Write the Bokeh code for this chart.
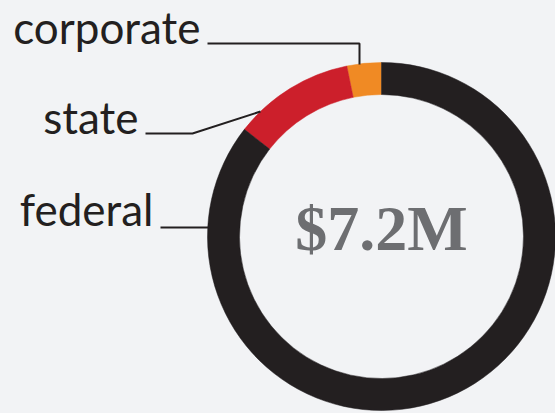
import math
from bokeh.plotting import figure
from bokeh.models import Range1d, GlobalInlineStyleSheet, ColumnDataSource
from bokeh.core.properties import value
from bokeh.embed import file_html
from bokeh.resources import INLINE

# ---- data ----
categories = ["corporate", "state", "federal"]
amounts_musd = [0.23, 0.81, 6.16]          # millions of dollars
colors = ["#f08a24", "#cc1f2b", "#231f20"]
total_label = "$7.2M"

BG = "#f2f3f5"
INK = "#231f20"

W, H = 555, 413
p = figure(width=W, height=H, output_backend="svg", toolbar_location=None,
           x_range=Range1d(0, W), y_range=Range1d(0, H),
           min_border=0, background_fill_color=BG, border_fill_color=BG,
           outline_line_color=None)
p.axis.visible = False
p.grid.visible = False
p.stylesheets = [GlobalInlineStyleSheet(css=f"body {{ background: {BG}; }}")]

def Y(py):
    return H - py

cx, cy = 381, Y(236)
r_out, r_in = 174, 142

total = sum(amounts_musd)
starts, ends = [], []
a = math.pi / 2
for v in amounts_musd:
    starts.append(a)
    a += v / total * 2 * math.pi
    ends.append(a)

src = ColumnDataSource(dict(cat=categories, start=starts, end=ends, color=colors))
p.annular_wedge(x=cx, y=cy, inner_radius=r_in, outer_radius=r_out,
                start_angle="start", end_angle="end", direction="anticlock",
                fill_color="color", line_color="color", line_width=0.5, source=src)

# leader lines (layout)
p.line([207, 359, 359], [Y(43), Y(43), Y(64)], line_color=INK, line_width=2)
p.line([145, 192, 260], [Y(133), Y(133), Y(111)], line_color=INK, line_width=2)
p.line([160, 208], [Y(227), Y(227)], line_color=INK, line_width=2)

# labels (baseline compensation for svg text placement)
p.text(x=[200, 138, 153], y=[Y(26), Y(116), Y(208)], text=categories,
       text_font=value("Lato"), text_font_size="44px", text_color=INK,
       text_align="right", text_baseline="alphabetic")

p.text(x=[cx], y=[Y(228)], text=[total_label],
       text_font=value("Liberation Serif"), text_font_style="bold",
       text_font_size="64px", text_color="#6d6e71",
       text_align="center", text_baseline="alphabetic")

open("out.html", "w").write(file_html(p, INLINE))
